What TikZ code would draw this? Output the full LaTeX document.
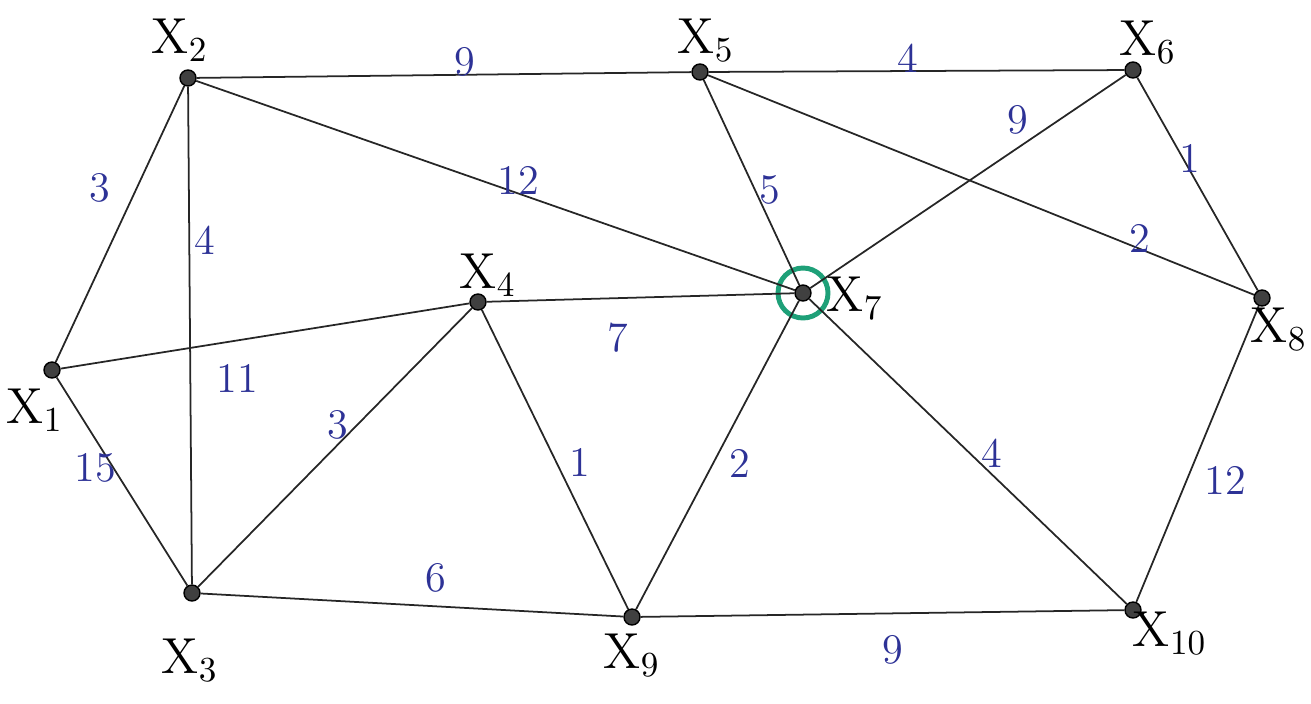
\documentclass[tikz,border=0pt]{standalone}
\usepackage{tikz}

\definecolor{wblue}{RGB}{45,50,150}
\definecolor{mgreen}{RGB}{30,160,120}

\begin{document}
\begin{tikzpicture}[x=1cm,y=1cm,
    vtx/.style={circle,fill=black!75,draw=black,inner sep=0pt,minimum size=1.6mm},
    vlab/.style={font=\Large},
    wlab/.style={font=\large,text=wblue},
    edge/.style={line width=0.5pt,black!85}]
                \useasboundingbox (0,0) rectangle (13.11,7.03);

                % vertices
                \node[vtx] (x1) at (0.52,3.33) {};
                \node[vtx] (x2) at (1.88,6.25) {};
                \node[vtx] (x3) at (1.92,1.10) {};
                \node[vtx] (x4) at (4.78,4.01) {};
                \node[vtx] (x5) at (7.00,6.31) {};
                \node[vtx] (x6) at (11.33,6.33) {};
                \node[vtx] (x7) at (8.03,4.10) {};
                \node[vtx] (x8) at (12.62,4.05) {};
                \node[vtx] (x9) at (6.32,0.86) {};
                \node[vtx] (x10) at (11.33,0.93) {};

                \draw[mgreen,line width=1.4pt] (x7) circle (0.25);

                % edges
                \foreach \a/\b in {x1/x2,x1/x4,x1/x3,x2/x5,x2/x3,x2/x7,x3/x4,x3/x9,
                                   x4/x7,x4/x9,x5/x6,x5/x7,x5/x8,x6/x7,x6/x8,
                                   x7/x9,x7/x10,x8/x10,x9/x10}
                    \draw[edge] (\a) -- (\b);

                % vertex names
                \node[vlab] at (0.35,2.93) {$\mathrm{X}_1$};
                \node[vlab] at (1.80,6.63) {$\mathrm{X}_2$};
                \node[vlab] at (1.90,0.43) {$\mathrm{X}_3$};
                \node[vlab] at (4.88,4.28) {$\mathrm{X}_4$};
                \node[vlab] at (7.06,6.63) {$\mathrm{X}_5$};
                \node[vlab] at (11.48,6.61) {$\mathrm{X}_6$};
                \node[vlab] at (8.55,4.05) {$\mathrm{X}_7$};
                \node[vlab,anchor=east,inner sep=0pt] at (13.08,3.74) {$\mathrm{X}_8$};
                \node[vlab] at (6.32,0.48) {$\mathrm{X}_9$};
                \node[vlab] at (11.70,0.70) {$\mathrm{X}_{10}$};

                % weights
                \node[wlab] at (1.00,5.15) {3};
                \node[wlab] at (2.05,4.63) {4};
                \node[wlab] at (2.37,3.25) {11};
                \node[wlab] at (0.95,2.35) {15};
                \node[wlab] at (4.65,6.41) {9};
                \node[wlab] at (5.18,5.23) {12};
                \node[wlab] at (3.38,2.78) {3};
                \node[wlab] at (6.18,3.65) {7};
                \node[wlab] at (5.80,2.41) {1};
                \node[wlab] at (4.36,1.25) {6};
                \node[wlab] at (7.40,2.40) {2};
                \node[wlab] at (7.70,5.13) {5};
                \node[wlab] at (9.08,6.45) {4};
                \node[wlab] at (10.18,5.83) {9};
                \node[wlab] at (11.90,5.45) {1};
                \node[wlab] at (11.40,4.65) {2};
                \node[wlab] at (9.92,2.50) {4};
                \node[wlab] at (12.25,2.23) {12};
                \node[wlab] at (8.93,0.53) {9};
            \end{tikzpicture}
\end{document}
